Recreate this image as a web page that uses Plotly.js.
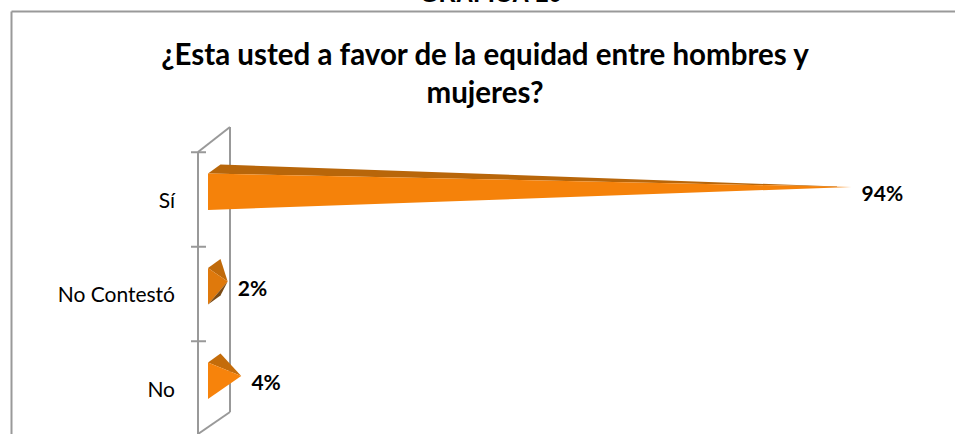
<!DOCTYPE html>
<html>
<head>
<meta charset="utf-8">
<script src="https://cdn.plot.ly/plotly-3.0.1.min.js"></script>
<style>html,body{margin:0;padding:0;background:#fff;overflow:hidden}#c{width:955px;height:434px}</style>
</head>
<body>
<div id="c"></div>
<script>
const categories = ["No", "No Contestó", "Sí"];
const values = [4, 2, 94];
const valueLabels = ["4%", "2%", "94%"];
const chartTitle = "¿Esta usted a favor de la equidad entre hombres y<br>mujeres?";
const pageHeading = "GRAFICA 10";

const frontColors = ["#F7830B", "#DF790C", "#F5820A"];
const topColors = ["#C46C0A", "#C06A0A", "#B8660A"];

const W = 955, H = 434;
const mL = 180, mT = 120;
const pxX = 6.78, pxY = 94.5;
const xMin = -(208 - mL) / pxX, xMax = (W - 208) / pxX;
const yMin = -(H - 388.5) / pxY, yMax = (388.5 - mT) / pxY;
const tipX = 0.9;
const u = p => p / pxY;

const traces = [];
function poly(xs, ys, color) {
  traces.push({type: "scatter", mode: "lines", x: xs.concat(xs[0]), y: ys.concat(ys[0]),
    fill: "toself", fillcolor: color, line: {width: 0, color: color}, hoverinfo: "skip", showlegend: false});
}
values.forEach((v, i) => {
  const tx = v + tipX, ty = i + u(12.5);
  const yTop = i + u(26), yBot = i - u(10.5);
  const bx = 12.5 / pxX, by = i + u(35);
  poly([0, bx, tx], [yTop, by, ty], topColors[i]);
  poly([0, 0, tx], [yTop, yBot, ty], frontColors[i]);
  if (v === 2) poly([0, tx, bx], [yBot, ty, i - u(1.5)], "#7A4A14");
});
traces.push({type: "scatter", mode: "text",
  x: values.map(v => v + tipX + 1.5), y: values.map((v, i) => i + u(3.5)),
  text: valueLabels, textposition: "middle right",
  textfont: {family: "Lato, sans-serif", size: 21, color: "#000", weight: 700},
  hoverinfo: "skip", showlegend: false});

const grey = "#999999";
const line = (x0, y0, x1, y1) => ({type: "line", xref: "x", yref: "y", x0, y0, x1, y1,
  line: {color: grey, width: 2}, layer: "below"});
const toX = px => (px - 208) / pxX;
const toY = py => (388.5 - py) / pxY;
const shapes = [
  line(toX(198), toY(152), toX(198), toY(434)),
  line(toX(198), toY(152), toX(230), toY(127)),
  line(toX(230), toY(127), toX(230), toY(412)),
  line(toX(230), toY(412), toX(198), toY(434))
];
[-0.5, 0.5, 1.5, 2.5].forEach(b => {
  shapes.push(line(toX(191), b, toX(206), b));
});
// chart frame
const frameY = 1 + (mT - 11.5) / (H - mT);
const frameX = -(mL - 11.5) / (W - mL);
shapes.push({type: "line", xref: "paper", yref: "paper", x0: frameX, x1: 1, y0: frameY, y1: frameY,
  line: {color: grey, width: 2}});
shapes.push({type: "line", xref: "paper", yref: "paper", x0: frameX, x1: frameX, y0: 0, y1: frameY,
  line: {color: grey, width: 2}});

const layout = {
  width: W, height: H,
  margin: {l: mL, r: 0, t: mT, b: 0, pad: 0},
  paper_bgcolor: "#fff", plot_bgcolor: "rgba(0,0,0,0)",
  showlegend: false,
  title: {text: chartTitle, font: {family: "Lato, sans-serif", size: 29.5, color: "#000", weight: 700},
    xref: "container", yref: "container", x: 485 / W, xanchor: "center", y: 1 - 65 / H, yanchor: "middle"},
  xaxis: {range: [xMin, xMax], visible: false, fixedrange: true},
  yaxis: {range: [yMin, yMax], tickmode: "array", tickvals: [-0.01, 0.99, 1.99], ticktext: categories,
    showgrid: false, zeroline: false, showline: false, ticks: "", ticklabelstandoff: 4,
    tickfont: {family: "Lato, sans-serif", size: 21, color: "#000"}, fixedrange: true},
  shapes: shapes,
  annotations: [{text: "<b>" + pageHeading + "</b>", xref: "paper", yref: "paper",
    x: (491 - mL) / (W - mL), y: 1 + (mT + 6.5) / (H - mT), xanchor: "center", yanchor: "middle",
    showarrow: false, font: {family: "Liberation Sans, Arial, sans-serif", size: 24, color: "#000"}}]
};
Plotly.newPlot("c", traces, layout, {displayModeBar: false, staticPlot: true});
</script>
</body>
</html>
